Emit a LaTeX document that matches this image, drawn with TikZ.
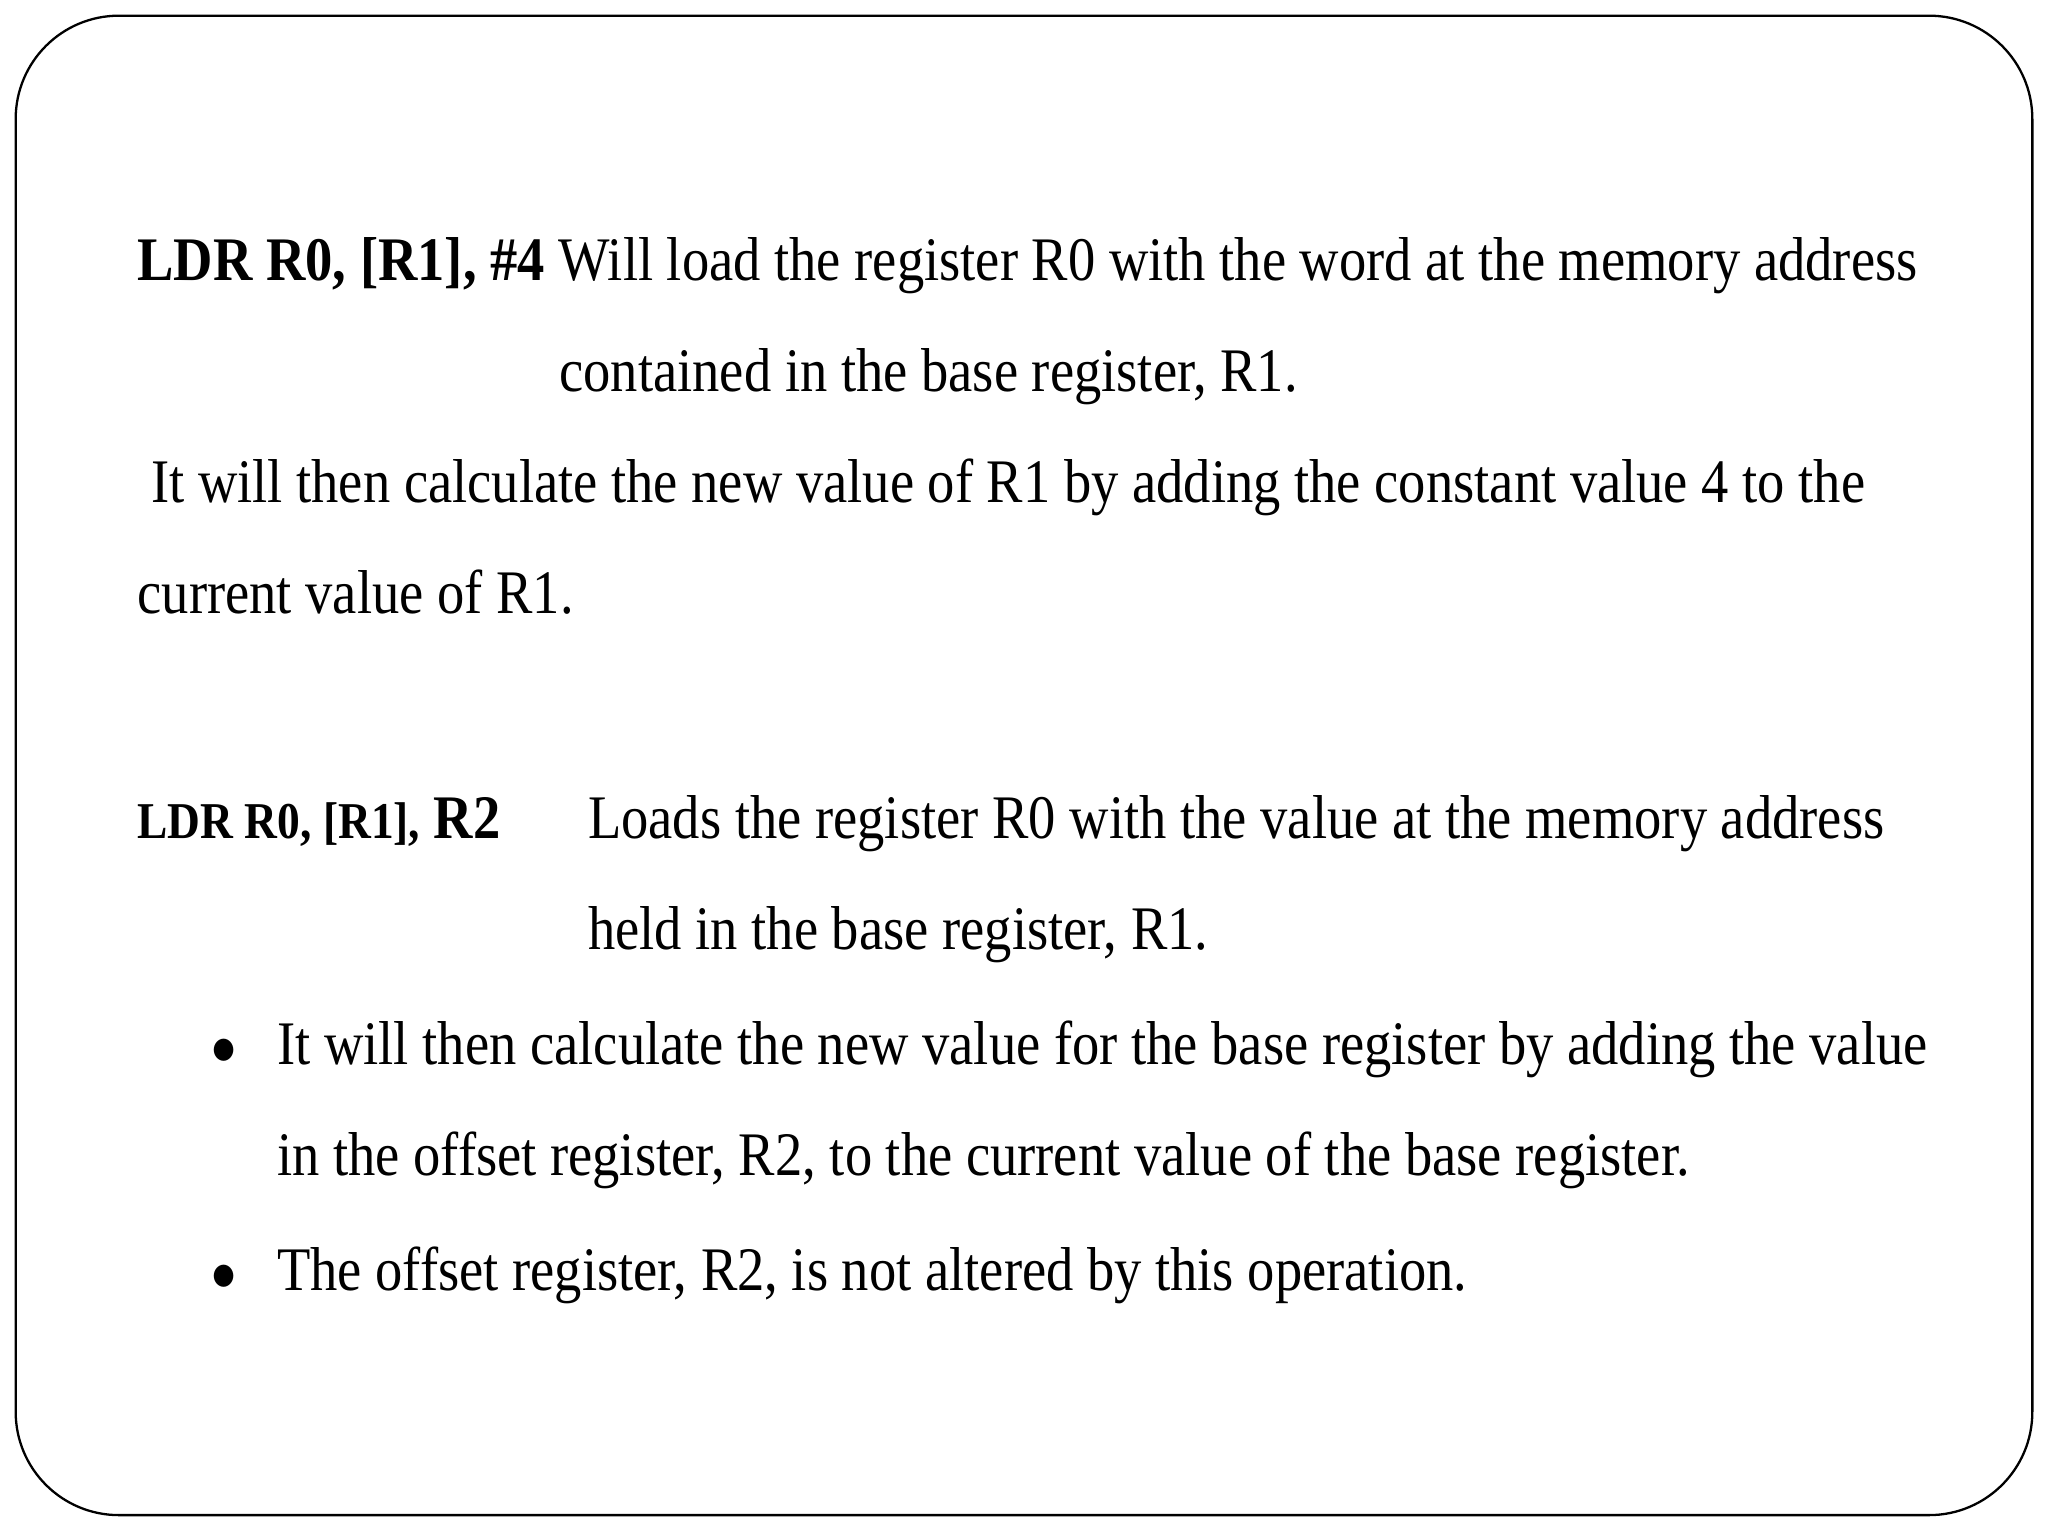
\documentclass[tikz,border=0pt]{standalone}
\usepackage{fontspec}
\setmainfont{Liberation Serif}
\begin{document}
\begin{tikzpicture}[x=0.02cm,y=-0.02cm,
  txt/.style={anchor=base west,inner sep=0,font=\fontsize{27}{30}\selectfont,xscale=0.88,transform shape}]
\useasboundingbox (0,0) rectangle (1568,1176);
\draw[line width=1pt,rounded corners=45] (12,12) rectangle (1556,1160);
\node[txt] (l1) at (105,215) {\textbf{LDR R0, [R1], \#4} Will load the register R0 with the word at the memory address};
\node[txt] (l2) at (428,300) {contained in the base register, R1.};
\node[txt] (l3) at (105,385) {\ It will then calculate the new value of R1 by adding the constant value 4 to the};
\node[txt] (l4) at (105,470) {current value of R1.};
\node[txt] (l5) at (105,642) {\textbf{{\fontsize{22.5}{24}\selectfont LDR R0, [R1],} R2}};
\node[txt] (l5b) at (450,642) {Loads the register R0 with the value at the memory address};
\node[txt] (l6) at (450,727) {held in the base register, R1.};
\node[txt] (b1) at (162,815) {$\bullet$};
\node[txt] (l7) at (212,815) {It will then calculate the new value for the base register by adding the value};
\node[txt] (l8) at (212,900) {in the offset register, R2, to the current value of the base register.};
\node[txt] (b2) at (162,988) {$\bullet$};
\node[txt] (l9) at (212,988) {The offset register, R2, is not altered by this operation.};
\end{tikzpicture}
\end{document}
